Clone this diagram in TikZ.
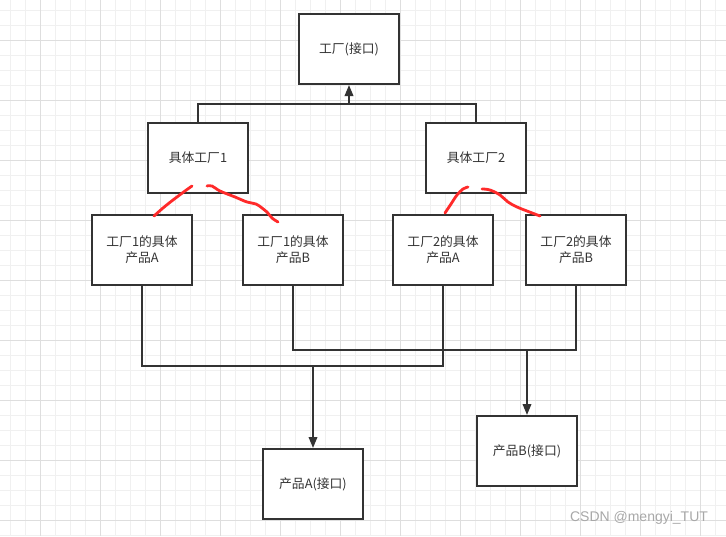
\documentclass[tikz,border=0pt]{standalone}
\usepackage{fontspec}
\setmainfont{Noto Sans CJK SC}
\newfontfamily\wmfont{Liberation Sans}
\usetikzlibrary{arrows.meta}
\definecolor{ink}{HTML}{333333}
\definecolor{gridminor}{HTML}{F0F0F0}
\definecolor{gridmajor}{HTML}{DEDEDE}
\definecolor{scribble}{HTML}{FF2A2A}
\definecolor{wm}{HTML}{A8A8A8}
\tikzset{
  box/.style={draw=ink, line width=2pt, fill=white, minimum width=100pt, minimum height=70pt, inner sep=0pt, text=ink, font=\fontsize{12.8}{16}\selectfont, align=center},
  wire/.style={draw=ink, line width=2pt},
  arr/.style={wire, -{Triangle[width=8.5pt,length=11pt]}},
  redline/.style={draw=scribble, line width=2.8pt, line cap=round, line join=round}
}
\begin{document}
\begin{tikzpicture}[x=1pt,y=-1pt]
\useasboundingbox (0,0) rectangle (726,536);
\fill[white] (0,0) rectangle (726,536);
% grid
\foreach \x in {10,25,...,725} {\draw[gridminor, line width=0.8pt] (\x,0) -- (\x,536);}
\foreach \y in {10,25,...,535} {\draw[gridminor, line width=0.8pt] (0,\y) -- (726,\y);}
\foreach \x in {40,100,...,725} {\draw[gridmajor, line width=0.8pt] (\x,0) -- (\x,536);}
\foreach \y in {40,100,...,535} {\draw[gridmajor, line width=0.8pt] (0,\y) -- (726,\y);}
% nodes
\node[box] (top) at (349,49) {工厂(接口)};
\node[box] (f1) at (198,158) {具体工厂1};
\node[box] (f2) at (476,158) {具体工厂2};
\node[box] (p1a) at (142,250) {工厂1的具体\\产品A};
\node[box] (p1b) at (293,250) {工厂1的具体\\产品B};
\node[box] (p2a) at (443,250) {工厂2的具体\\产品A};
\node[box] (p2b) at (576,250) {工厂2的具体\\产品B};
\node[box] (pa) at (313,484) {产品A(接口)};
\node[box] (pb) at (527,451) {产品B(接口)};
% connectors
\coordinate (j) at (349,104);
\draw[wire] (f1.north) |- (j) -| (f2.north);
\draw[arr] (j) -- (top.south);
\coordinate (ja) at (313,366);
\draw[wire] (p1a.south) |- (ja) -| (p2a.south);
\draw[arr] (ja) -- (pa.north);
\coordinate (jb) at (527,350);
\draw[wire] (p1b.south) |- (jb) -| (p2b.south);
\draw[arr] (jb) -- (pb.north);
% red scribbles
\draw[redline] plot[smooth, tension=0.6] coordinates {(192,186) (185,191) (173,200) (163,208) (154,216)};
\draw[redline] plot[smooth, tension=0.6] coordinates {(207,186) (212,186) (220,191) (235,197) (247,202) (256,204) (262,208) (267,212) (272,218) (278,222)};
\draw[redline] plot[smooth, tension=0.6] coordinates {(468,187) (463,189) (457,195) (451,204) (445,213)};
\draw[redline] plot[smooth, tension=0.6] coordinates {(482,189) (490,190) (500,195) (508,202) (517,207) (527,211) (540,216)};
% watermark
\node[text=wm, font=\wmfont\fontsize{14}{16}\selectfont, anchor=center] (wmark) at (639,518) {CSDN @mengyi\_TUT};
\end{tikzpicture}
\end{document}
